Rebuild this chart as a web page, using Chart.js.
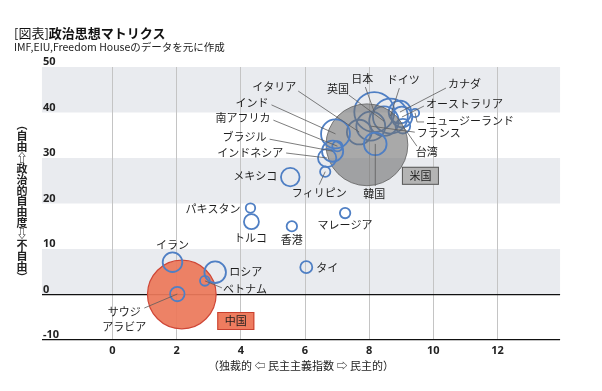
<!DOCTYPE html>
<html><head><meta charset="utf-8">
<script src="https://cdn.jsdelivr.net/npm/chart.js@4"></script>
<style>
html,body{margin:0;padding:0;background:#fff;}
#wrap{position:relative;width:602px;height:391px;overflow:hidden;}
canvas{position:absolute;left:0;top:0;}
.title{position:absolute;left:14px;top:24px;font-size:13px;font-family:"Noto Sans CJK JP",sans-serif;color:#111;white-space:nowrap;line-height:17px;}
.title b{font-weight:700;}
.sub{position:absolute;left:14px;top:40px;font-size:10.5px;font-family:"Noto Sans CJK JP",sans-serif;color:#222;white-space:nowrap;line-height:14px;}
</style></head>
<body><div id="wrap"><canvas id="c" width="602" height="391"></canvas>
<div class="title">[図表]<b>政治思想マトリクス</b></div>
<div class="sub">IMF,EIU,Freedom Houseのデータを元に作成</div></div>
<script>
// ---- data ----
const countries = ['米国','中国','日本','ドイツ','英国','フランス','イタリア','カナダ','オーストラリア','台湾','ニュージーランド','韓国','インド','南アフリカ','ブラジル','インドネシア','フィリピン','メキシコ','マレージア','香港','パキスタン','トルコ','タイ','ロシア','イラン','ベトナム','サウジアラビア'];
const democracyIndex   = [7.93, 2.16, 8.16, 8.66, 8.46, 8.05, 7.69, 8.96, 9.02, 9.05, 9.43, 8.19, 6.95, 7.01, 6.86, 6.69, 6.63, 5.54, 7.25, 5.59, 4.30, 4.33, 6.04, 3.20, 1.87, 2.88, 2.02];
const politicalFreedom = [32.9, 0.0, 40.1, 39.2, 38.1, 37.0, 35.7, 40.1, 39.0, 37.0, 39.9, 33.1, 35.3, 32.6, 31.5, 30.0, 27.0, 25.8, 17.9, 15.0, 19.0, 16.0, 6.0, 4.9, 7.1, 3.0, 0.1];
const gdpTrillionUSD   = [20.9, 14.7, 5.0, 3.8, 2.7, 2.6, 1.9, 1.6, 1.35, 0.67, 0.21, 1.6, 2.6, 0.33, 1.4, 1.05, 0.33, 1.08, 0.34, 0.34, 0.28, 0.7, 0.45, 1.45, 1.2, 0.3, 0.65];
const xTickValues = [0, 2, 4, 6, 8, 10, 12];
const yTickValues = [-10, 0, 10, 20, 30, 40, 50];
const shadedBands = [[40, 50], [20, 30], [0, 10]];
const xAxisTitle = '（独裁的 ⇦ 民主主義指数 ⇨ 民主的）';
const yAxisTitle = '︵自由⇧政治的自由度⇩不自由︶';
const grayGroup = ['米国'];
const redGroup = ['中国'];
const underGroup = ['日本','ドイツ','英国','フランス','イタリア','カナダ','オーストラリア','台湾','ニュージーランド'];

// ---- layout / style ----
const R_PER_SQRT = 8.95;
const topGroup = countries.filter(n => !grayGroup.includes(n) && !redGroup.includes(n) && !underGroup.includes(n));
function pts(names){
  return names.map(n => { const i = countries.indexOf(n);
    return {x: democracyIndex[i], y: politicalFreedom[i], r: R_PER_SQRT*Math.sqrt(gdpTrillionUSD[i])}; });
}
// label offsets in pixels relative to the bubble centre
const labelLayout = {
  '日本': {dx:-12, dy:-33, align:'center', line:[[-9,-25]]},
  '英国': {dx:-46, dy:-32, align:'center', line:[[-35,-26]]},
  'ドイツ': {dx:13, dy:-36, align:'center', line:[[9,-28]]},
  'カナダ': {dx:48, dy:-28, align:'left', line:[[46,-24]]},
  'オーストラリア': {dx:24, dy:-13, align:'left', line:[[22,-11]]},
  'ニュージーランド': {dx:11, dy:8, align:'left', line:[[9,9],[2,9]]},
  'フランス': {dx:46, dy:7, align:'left', line:[[44,6]]},
  '台湾': {dx:13, dy:26, align:'left', line:[[14,20]]},
  '韓国': {dx:-1, dy:50, align:'center', line:[[0,42]]},
  'イタリア': {dx:-63, dy:-45, align:'right', line:[[-61,-41]]},
  'インド': {dx:-67, dy:-31, align:'right', line:[[-64,-29]]},
  '南アフリカ': {dx:-67, dy:-28, align:'right', line:[[-64,-26]]},
  'ブラジル': {dx:-66, dy:-14, align:'right', line:[[-63,-12]]},
  'インドネシア': {dx:-44, dy:-5, align:'right', line:[[-41,-5]]},
  'メキシコ': {dx:-13, dy:-1, align:'right'},
  'フィリピン': {dx:-6, dy:21, align:'center', line:[[-6,13]]},
  'パキスタン': {dx:-10, dy:1, align:'right'},
  'トルコ': {dx:-1, dy:16, align:'center'},
  '香港': {dx:0, dy:14, align:'center'},
  'マレージア': {dx:0, dy:12, align:'center'},
  'タイ': {dx:10, dy:1, align:'left'},
  'ロシア': {dx:14, dy:0, align:'left'},
  'ベトナム': {dx:18, dy:8, align:'left', line:[[17,7]]},
  'イラン': {dx:0, dy:-17, align:'center'},
  'サウジアラビア': {dx:-53, dy:18, align:'center', lines:['サウジ','アラビア'], lineGap:15, line:[[-33,14]]},
  '米国': {dx:53.5, dy:31, align:'center', box:{w:37, h:18, fill:'#b4b4b4', stroke:'#5a5a5a'}},
  '中国': {dx:54, dy:26.5, align:'center', box:{w:37, h:18, fill:'#ee7c5f', stroke:'#c8402f'}}
};
const LABEL_FONT = '11px "Noto Sans CJK JP", "DejaVu Sans", sans-serif';

const annotate = {
  id: 'annotate',
  beforeDraw(chart){
    const {ctx, chartArea:a, scales:{y}} = chart;
    ctx.save();
    ctx.fillStyle = '#e9ebef';
    shadedBands.forEach(([lo, hi]) => {
      const t = y.getPixelForValue(hi), b = y.getPixelForValue(lo);
      ctx.fillRect(a.left, t, a.right - a.left, b - t);
    });
    ctx.restore();
  },
  afterDatasetsDraw(chart){
    const {ctx, scales:{x, y}} = chart;
    ctx.save();
    // leader lines
    countries.forEach((name, i) => {
      const L = labelLayout[name]; if (!L || !L.line) return;
      const cx = x.getPixelForValue(democracyIndex[i]), cy = y.getPixelForValue(politicalFreedom[i]);
      ctx.beginPath();
      ctx.strokeStyle = '#5c5c5c'; ctx.lineWidth = 0.8;
      ctx.moveTo(cx + L.line[0][0], cy + L.line[0][1]);
      for (let k = 1; k < L.line.length; k++) ctx.lineTo(cx + L.line[k][0], cy + L.line[k][1]);
      ctx.lineTo(cx, cy);
      ctx.stroke();
    });
    // labels
    ctx.font = LABEL_FONT;
    ctx.textBaseline = 'middle';
    countries.forEach((name, i) => {
      const L = labelLayout[name]; if (!L) return;
      const cx = x.getPixelForValue(democracyIndex[i]), cy = y.getPixelForValue(politicalFreedom[i]);
      const tx = cx + L.dx, ty = cy + L.dy;
      if (L.box) {
        ctx.fillStyle = L.box.fill; ctx.strokeStyle = L.box.stroke; ctx.lineWidth = 1;
        ctx.fillRect(tx - L.box.w/2, ty - L.box.h/2, L.box.w, L.box.h);
        ctx.strokeRect(tx - L.box.w/2 + 0.5, ty - L.box.h/2 + 0.5, L.box.w - 1, L.box.h - 1);
      }
      ctx.fillStyle = '#1e1e1e';
      ctx.textAlign = L.align;
      const lines = L.lines || [name];
      lines.forEach((t, k) => ctx.fillText(t, tx, ty + k*(L.lineGap||0)));
    });
    // vertical y-axis title
    ctx.font = 'bold 11px "Noto Sans CJK JP", "DejaVu Sans", sans-serif';
    ctx.fillStyle = '#222'; ctx.textAlign = 'center'; ctx.textBaseline = 'middle';
    const chars = Array.from(yAxisTitle);
    chars.forEach((ch, k) => ctx.fillText(ch, 22, 125 + k*10.9));
    ctx.restore();
  }
};

Chart.defaults.font.family = '"Noto Sans CJK JP", sans-serif';
new Chart(document.getElementById('c'), {
  type: 'bubble',
  data: { datasets: [
    {label:'その他', data: pts(topGroup), borderColor:'#4f7fc4', backgroundColor:'rgba(255,255,255,0)', borderWidth:1.8, order:0},
    {label:'米国', data: pts(grayGroup), backgroundColor:'rgba(112,112,112,0.6)', borderColor:'rgba(95,95,95,0.8)', borderWidth:1, order:1},
    {label:'先進国', data: pts(underGroup), borderColor:'#4f7fc4', backgroundColor:'rgba(255,255,255,0)', borderWidth:1.8, order:2},
    {label:'中国', data: pts(redGroup), backgroundColor:'rgba(236,120,90,0.93)', borderColor:'#cf4636', borderWidth:1.2, order:3}
  ]},
  options: {
    responsive:false, animation:false, devicePixelRatio:1,
    layout:{padding:{top:67, left:37, right:18, bottom:0}},
    plugins:{legend:{display:false}, tooltip:{enabled:false}, title:{display:false}},
    scales:{
      x:{type:'linear', min:-2.2, max:13.95,
        afterBuildTicks:(s)=>{ s.ticks = xTickValues.map(v=>({value:v})); },
        afterFit:(s)=>{ s.height = 51; },
        grid:{color:'#c4c4c4', lineWidth:1, drawTicks:false},
        border:{display:false},
        ticks:{padding:4, color:'#222', autoSkip:false, maxRotation:0, font:{size:11, weight:'bold', family:'"Open Sans", sans-serif'}},
        title:{display:true, text:xAxisTitle, color:'#222', font:{size:11, family:'"Noto Sans CJK JP", "DejaVu Sans", sans-serif'}, padding:{top:2, bottom:19}}
      },
      y:{type:'linear', min:-10, max:50,
        afterBuildTicks:(s)=>{ s.ticks = yTickValues.map(v=>({value:v})); },
        afterFit:(s)=>{ s.width = 0; },
        grid:{color:(c)=> (c.tick && (c.tick.value === 0 || c.tick.value === -10)) ? '#111' : 'rgba(0,0,0,0)', lineWidth:1.3, drawTicks:false},
        border:{display:false},
        ticks:{mirror:true, padding:1, labelOffset:-5, color:'#222', autoSkip:false, font:{size:11, weight:'bold', family:'"Open Sans", sans-serif'}}
      }
    }
  },
  plugins:[annotate]
});
</script>
</body></html>
